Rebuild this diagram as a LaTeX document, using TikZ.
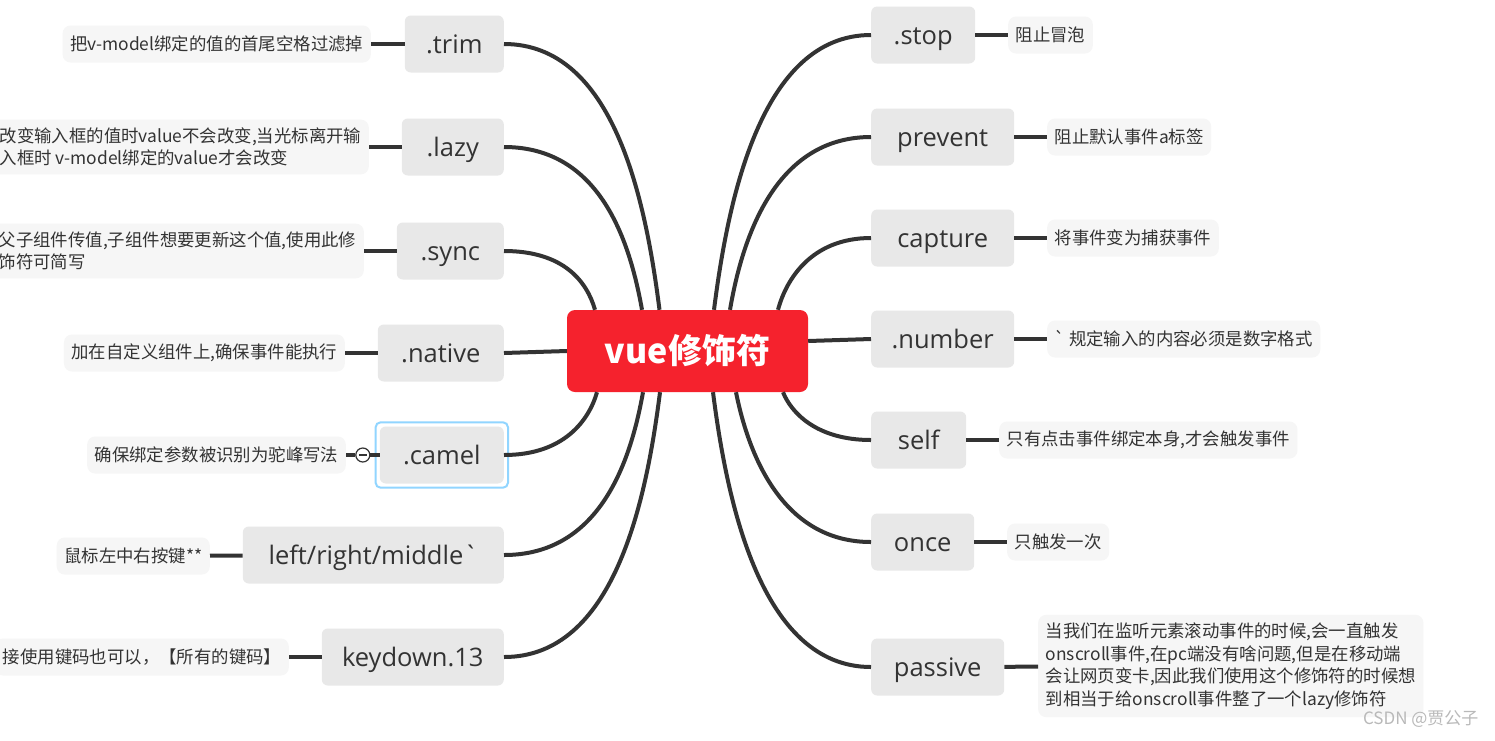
\documentclass[tikz,border=0pt]{standalone}
\usepackage{fontspec}
\setmainfont{Noto Sans CJK SC}[Ligatures=TeXOff]
\newfontfamily\latinfont{Open Sans}[Ligatures=TeXOff]
\usetikzlibrary{calc}

\definecolor{rootred}{RGB}{245,34,45}
\definecolor{linegray}{RGB}{51,51,51}
\definecolor{boxgray}{RGB}{232,232,232}
\definecolor{notegray}{RGB}{246,246,246}
\definecolor{txtgray}{RGB}{51,51,51}
\definecolor{selblue}{RGB}{145,213,255}

\tikzset{
	topic/.style={fill=boxgray, rounded corners=6pt, minimum height=57pt, inner sep=0pt, text=txtgray, text height=21pt, text depth=3pt, font=\latinfont\fontsize{25.5}{29}\selectfont},
	note/.style={fill=notegray, rounded corners=8pt, minimum height=37pt, inner xsep=7.5pt, inner ysep=8pt, text=txtgray, align=left, font=\fontsize{17.4}{22.5}\selectfont},
	branch/.style={draw=linegray, line width=4pt},
}

\begin{document}
\begin{tikzpicture}[x=1pt, y=1pt]
		\useasboundingbox (0,0) rectangle (1495,-740);
		\fill[white] (0,0) rectangle (1495,-740);

		% centre
		\node[fill=rootred, rounded corners=8pt, minimum width=241pt, minimum height=82pt, text=white, font=\bfseries\fontsize{34}{40}\selectfont] (root) at (687.5,-351) {vue修饰符};

		% left topics
		\node[topic, minimum width=99pt, anchor=east] (trim) at (504,-44) {.trim};
		\node[topic, minimum width=102pt, anchor=east] (lazy) at (504,-147) {.lazy};
		\node[topic, minimum width=107pt, anchor=east] (sync) at (504,-251) {.sync};
		\node[topic, minimum width=126pt, anchor=east] (native) at (504,-353) {.native};
		\node[topic, minimum width=124pt, anchor=east] (camel) at (504,-455) {.camel};
		\node[topic, minimum width=261pt, anchor=east] (lrm) at (504,-555) {left/right/middle`};
		\node[topic, minimum width=182pt, anchor=east] (keydown) at (504,-657) {keydown.13};

		% right topics
		\node[topic, minimum width=104pt, anchor=west] (stop) at (871,-35) {.stop};
		\node[topic, minimum width=143pt, anchor=west] (prevent) at (871,-137) {prevent};
		\node[topic, minimum width=143pt, anchor=west] (capture) at (871,-238) {capture};
		\node[topic, minimum width=143pt, anchor=west] (number) at (871,-339) {.number};
		\node[topic, minimum width=95pt, anchor=west] (self) at (871,-440) {self};
		\node[topic, minimum width=103pt, anchor=west] (once) at (871,-542) {once};
		\node[topic, minimum width=133pt, anchor=west] (passive) at (871,-667) {passive};

		% notes
		\node[note, anchor=east] (trimd) at (371,-44) {把v-model绑定的值的首尾空格过滤掉};
		\node[note, anchor=east] (lazyd) at (369,-147) {改变输入框的值时value不会改变,当光标离开输\\入框时 v-model绑定的value才会改变};
		\node[note, anchor=east] (syncd) at (364,-251) {父子组件传值,子组件想要更新这个值,使用此修\\饰符可简写};
		\node[note, anchor=east] (natived) at (345,-353) {加在自定义组件上,确保事件能执行};
		\node[note, anchor=east] (cameld) at (346,-455) {确保绑定参数被识别为驼峰写法};
		\node[note, anchor=east] (lrmd) at (210,-556) {鼠标左中右按键**};
		\node[note, anchor=east] (keyd) at (289,-657) {接使用键码也可以，【所有的键码】};
		\node[note, anchor=west] (stopd) at (1008,-35) {阻止冒泡};
		\node[note, anchor=west] (preventd) at (1047,-137) {阻止默认事件a标签};
		\node[note, anchor=west] (captured) at (1047,-238) {将事件变为捕获事件};
		\node[note, anchor=west] (numberd) at (1047,-339) {` 规定输入的内容必须是数字格式};
		\node[note, anchor=west] (selfd) at (999,-440) {只有点击事件绑定本身,才会触发事件};
		\node[note, anchor=west] (onced) at (1007,-542) {只触发一次};
		\node[note, anchor=west] (passived) at (1038,-666) {当我们在监听元素滚动事件的时候,会一直触发\\onscroll事件,在pc端没有啥问题,但是在移动端\\会让网页变卡,因此我们使用这个修饰符的时候想\\到相当于给onscroll事件整了一个lazy修饰符};

		% selected topic and fold button
		\draw[selblue, line width=2pt, rounded corners=5pt] ([shift={(-4,4)}]camel.north west) rectangle ([shift={(4,-4)}]camel.south east);
		\node[circle, draw=linegray, fill=white, line width=1.2pt, minimum size=14pt, inner sep=0pt] (fold) at ($(cameld.east)!0.5!(camel.west)$) {};
		\draw[linegray, line width=1.2pt] ([xshift=-4pt]fold.center) -- ([xshift=4pt]fold.center);

		% branches from the centre
		\draw[branch] (trim.east) .. controls +(110,0) and +(-14,110) .. ([xshift=-28pt]root.north);
		\draw[branch] (lazy.east) .. controls +(97,0) and +(-12,67) .. ([xshift=-45.5pt]root.north);
		\draw[branch] (sync.east) .. controls +(60,0) and +(-8,28) .. ([xshift=-92.5pt]root.north);
		\draw[branch] (native.east) -- (root.west);
		\draw[branch] (camel.east) .. controls +(60,0) and +(-8,-28) .. ([xshift=-90.5pt]root.south);
		\draw[branch] (lrm.east) .. controls +(97,0) and +(-12,-67) .. ([xshift=-44.5pt]root.south);
		\draw[branch] (keydown.east) .. controls +(110,0) and +(-14,-110) .. ([xshift=-27.5pt]root.south);
		\draw[branch] (stop.west) .. controls +(-110,0) and +(14,110) .. ([xshift=26.5pt]root.north);
		\draw[branch] (prevent.west) .. controls +(-97,0) and +(12,70) .. ([xshift=42.5pt]root.north);
		\draw[branch] (capture.west) .. controls +(-60,0) and +(8,30) .. ([xshift=90.5pt]root.north);
		\draw[branch] ([yshift=10pt]root.east) -- (number.west);
		\draw[branch] (self.west) .. controls +(-55,0) and +(8,-20) .. ([xshift=95.5pt]root.south);
		\draw[branch] (once.west) .. controls +(-90,0) and +(12,-60) .. ([xshift=48.5pt]root.south);
		\draw[branch] (passive.west) .. controls +(-110,0) and +(14,-110) .. ([xshift=25.5pt]root.south);

		% topics to notes
		\draw[branch] (trim) -- (trimd);
		\draw[branch] (lazy) -- (lazyd);
		\draw[branch] (sync) -- (syncd);
		\draw[branch] (native) -- (natived);
		\draw[branch] (cameld.east) -- (fold.west);
		\draw[branch] (fold.east) -- (camel.west);
		\draw[branch] (lrm) -- (lrmd);
		\draw[branch] (keydown) -- (keyd);
		\draw[branch] (stop) -- (stopd);
		\draw[branch] (prevent) -- (preventd);
		\draw[branch] (capture) -- (captured);
		\draw[branch] (number) -- (numberd);
		\draw[branch] (self) -- (selfd);
		\draw[branch] (once) -- (onced);
		\draw[branch] (passive) -- (passived);

		\node[text=gray!55, font=\fontsize{17}{19}\selectfont, anchor=east] (mark) at (1482,-719) {CSDN @贾公子};
\end{tikzpicture}
\end{document}
